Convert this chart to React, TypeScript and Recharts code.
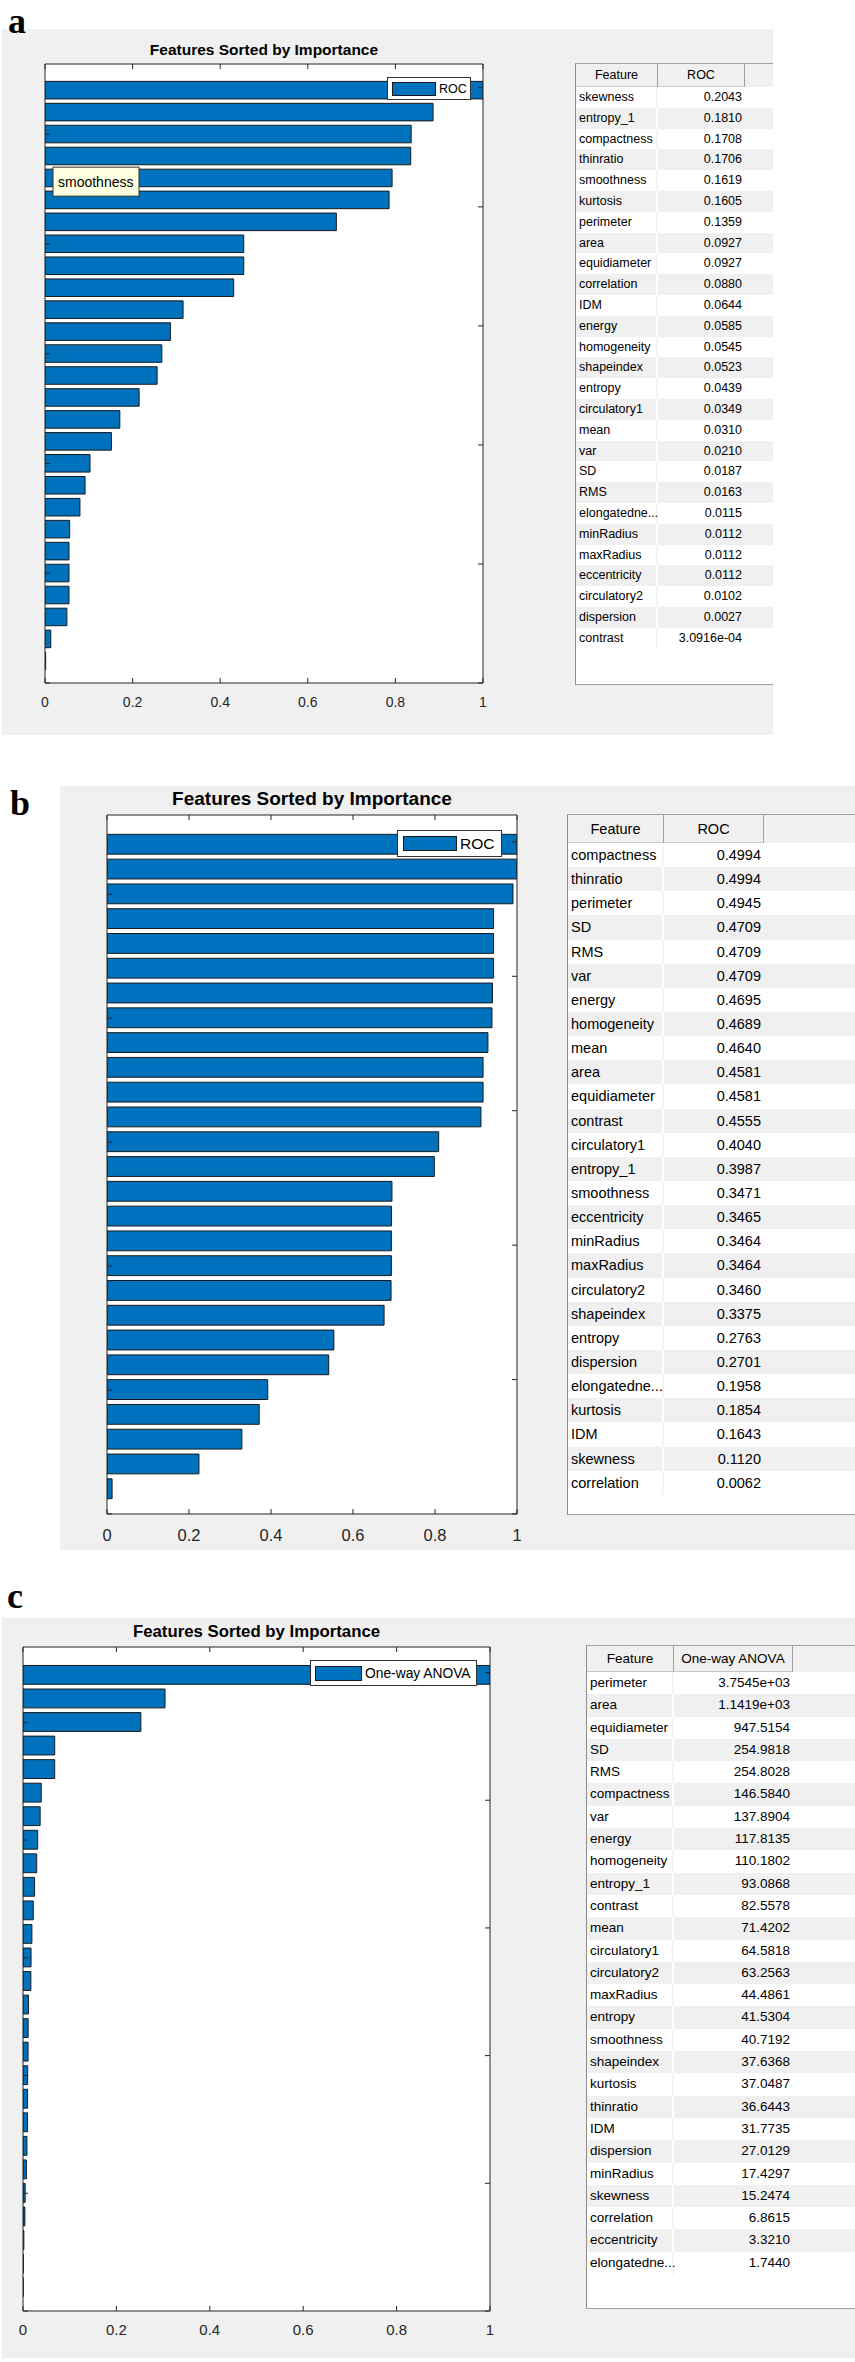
import { BarChart, Bar, XAxis, YAxis, CartesianGrid, Legend, ReferenceDot } from 'recharts'

// panel a: ROC ranking
const featuresA = [
  'skewness', 'entropy_1', 'compactness', 'thinratio', 'smoothness', 'kurtosis', 'perimeter',
  'area', 'equidiameter', 'correlation', 'IDM', 'energy', 'homogeneity', 'shapeindex', 'entropy',
  'circulatory1', 'mean', 'var', 'SD', 'RMS', 'elongatedness', 'minRadius', 'maxRadius',
  'eccentricity', 'circulatory2', 'dispersion', 'contrast',
]
const rocA = [
  '0.2043', '0.1810', '0.1708', '0.1706', '0.1619', '0.1605', '0.1359', '0.0927', '0.0927',
  '0.0880', '0.0644', '0.0585', '0.0545', '0.0523', '0.0439', '0.0349', '0.0310', '0.0210',
  '0.0187', '0.0163', '0.0115', '0.0112', '0.0112', '0.0112', '0.0102', '0.0027', '3.0916e-04',
]

// panel b: ROC ranking (second run)
const featuresB = [
  'compactness', 'thinratio', 'perimeter', 'SD', 'RMS', 'var', 'energy', 'homogeneity', 'mean',
  'area', 'equidiameter', 'contrast', 'circulatory1', 'entropy_1', 'smoothness', 'eccentricity',
  'minRadius', 'maxRadius', 'circulatory2', 'shapeindex', 'entropy', 'dispersion',
  'elongatedness', 'kurtosis', 'IDM', 'skewness', 'correlation',
]
const rocB = [
  '0.4994', '0.4994', '0.4945', '0.4709', '0.4709', '0.4709', '0.4695', '0.4689', '0.4640',
  '0.4581', '0.4581', '0.4555', '0.4040', '0.3987', '0.3471', '0.3465', '0.3464', '0.3464',
  '0.3460', '0.3375', '0.2763', '0.2701', '0.1958', '0.1854', '0.1643', '0.1120', '0.0062',
]

// panel c: one-way ANOVA ranking
const featuresC = [
  'perimeter', 'area', 'equidiameter', 'SD', 'RMS', 'compactness', 'var', 'energy',
  'homogeneity', 'entropy_1', 'contrast', 'mean', 'circulatory1', 'circulatory2', 'maxRadius',
  'entropy', 'smoothness', 'shapeindex', 'kurtosis', 'thinratio', 'IDM', 'dispersion',
  'minRadius', 'skewness', 'correlation', 'eccentricity', 'elongatedness',
]
const anovaC = [
  '3.7545e+03', '1.1419e+03', '947.5154', '254.9818', '254.8028', '146.5840', '137.8904',
  '117.8135', '110.1802', '93.0868', '82.5578', '71.4202', '64.5818', '63.2563', '44.4861',
  '41.5304', '40.7192', '37.6368', '37.0487', '36.6443', '31.7735', '27.0129', '17.4297',
  '15.2474', '6.8615', '3.3210', '1.7440',
]

const xTicks = [0, 0.2, 0.4, 0.6, 0.8, 1]
const yTicks = [0, 5, 10, 15, 20, 25]

const AX = '#262626'
const FONT = '"Liberation Sans", Arial, sans-serif'
const BAR_FILL = '#0072BD'
const BAR_EDGE = '#1a1a1a'
const FIG_BG = '#f0f0f0'
const Y_MAX = 28.2

const panelA = {
  label: 'a',
  labelPos: { left: 8, top: 3 },
  bg: { left: 2, top: 29, right: 773, bottom: 735 },
  plot: { left: 45, right: 483, top: 64, bottom: 683 },
  titleY: 50,
  titleFs: 15.5,
  tickFs: 14,
  tickDy: 24,
  legend: { left: 387, top: 77, width: 84, height: 23, swW: 44, swH: 14, pad: 4, fs: 12.5 },
  table: { left: 575, top: 63, right: 773, bottom: 685, headH: 23, rowH: 20.8, w1: 82, w2: 87, fs: 12.5 },
}

const panelB = {
  label: 'b',
  labelPos: { left: 10, top: 785 },
  bg: { left: 60, top: 786, right: 855, bottom: 1550 },
  plot: { left: 107, right: 517, top: 815, bottom: 1514 },
  titleY: 798,
  titleFs: 19,
  tickFs: 16.5,
  tickDy: 27,
  legend: { left: 397, top: 830, width: 105, height: 27, swW: 54, swH: 15, pad: 5, fs: 15.5 },
  table: { left: 567, top: 814, right: 855, bottom: 1515, headH: 28, rowH: 24.15, w1: 96, w2: 100, fs: 14.5 },
}

const panelC = {
  label: 'c',
  labelPos: { left: 7, top: 1578 },
  bg: { left: 2, top: 1618, right: 855, bottom: 2358 },
  plot: { left: 23, right: 490, top: 1647, bottom: 2311 },
  titleY: 1632,
  titleFs: 16.8,
  tickFs: 15,
  tickDy: 24,
  legend: { left: 310, top: 1660, width: 167, height: 26, swW: 47, swH: 15, pad: 4, fs: 13.8 },
  table: { left: 586, top: 1645, right: 855, bottom: 2309, headH: 26, rowH: 22.3, w1: 87, w2: 119, fs: 13.5 },
}

function shortName(s: string) {
  return s.length > 12 ? s.slice(0, 11) + '...' : s
}

function ImportanceChart({ cfg, features, scores, seriesName, tip }: any) {
  const values = scores.map(Number)
  const best = Math.max(...values)
  const n = features.length
  const data = features.map((name: string, i: number) => ({ name, pos: n - i, score: values[i] / best }))
  const { plot, legend: lg } = cfg
  const padT = 12
  const padR = 20
  const padB = 40
  const plotH = plot.bottom - plot.top
  const unit = plotH / Y_MAX
  const chartTop = plot.top - padT
  const tipRow = tip ? data.find((d: any) => d.name === tip) : null

  // every axis takes 1px of room, so the margins give way by 1px
  return (
    <div style={{ position: 'absolute', left: 0, top: chartTop }}>
      <BarChart
        layout="vertical"
        width={plot.right + padR}
        height={plotH + padT + padB}
        data={data}
        margin={{ top: padT - 1, right: padR - 1, bottom: padB - 1, left: plot.left - 1 }}
      >
        <CartesianGrid fill="#fff" horizontal={false} vertical={false} />
        <XAxis
          type="number"
          domain={[0, 1]}
          ticks={xTicks}
          interval={0}
          allowDataOverflow
          height={1}
          tickSize={0}
          tickMargin={0}
          axisLine={{ stroke: AX }}
          tickLine={false}
          tick={(t: any) => (
            <g>
              <line x1={t.x} y1={t.y} x2={t.x} y2={t.y - 5} stroke={AX} />
              <text
                x={t.x}
                y={t.y + cfg.tickDy}
                textAnchor="middle"
                fontSize={cfg.tickFs}
                fontFamily={FONT}
                fill={AX}
              >
                {String(t.payload.value)}
              </text>
            </g>
          )}
        />
        <XAxis
          xAxisId="top"
          orientation="top"
          type="number"
          domain={[0, 1]}
          ticks={xTicks}
          interval={0}
          allowDataOverflow
          height={1}
          tickSize={0}
          tickMargin={0}
          axisLine={{ stroke: AX }}
          tickLine={false}
          tick={(t: any) => <line x1={t.x} y1={t.y} x2={t.x} y2={t.y + 5} stroke={AX} />}
        />
        <YAxis
          type="number"
          dataKey="pos"
          domain={[0, Y_MAX]}
          ticks={yTicks}
          reversed
          interval={0}
          allowDataOverflow
          width={1}
          tickSize={0}
          tickMargin={0}
          axisLine={{ stroke: AX }}
          tickLine={false}
          tick={(t: any) => <line x1={t.x} y1={t.y} x2={t.x + 5} y2={t.y} stroke={AX} />}
        />
        <YAxis
          yAxisId="right"
          orientation="right"
          type="number"
          domain={[0, Y_MAX]}
          ticks={yTicks}
          reversed
          interval={0}
          allowDataOverflow
          width={1}
          tickSize={0}
          tickMargin={0}
          axisLine={{ stroke: AX }}
          tickLine={false}
          tick={(t: any) => <line x1={t.x} y1={t.y} x2={t.x - 5} y2={t.y} stroke={AX} />}
        />
        <Bar
          dataKey="score"
          name={seriesName}
          fill={BAR_FILL}
          stroke={BAR_EDGE}
          strokeWidth={1}
          barSize={unit * 0.8}
          isAnimationActive={false}
        />
        {tipRow ? (
          <ReferenceDot
            x={0}
            y={tipRow.pos}
            r={0}
            ifOverflow="visible"
            shape={(s: any) => (
              <g>
                <rect x={s.cx + 8} y={s.cy - 11} width={86} height={29} fill="#ffffe1" stroke="#333" />
                <text x={s.cx + 13} y={s.cy + 8.5} fontFamily={FONT} fontSize={14} fill="#000">
                  {tipRow.name}
                </text>
              </g>
            )}
          />
        ) : null}
        <Legend
          layout="horizontal"
          verticalAlign="middle"
          align="center"
          wrapperStyle={{ left: lg.left, top: lg.top - chartTop, width: lg.width, height: lg.height }}
          content={(props: any) => (
            <div
              style={{
                boxSizing: 'border-box',
                width: lg.width,
                height: lg.height,
                border: '1px solid #333',
                background: '#fff',
                display: 'flex',
                alignItems: 'center',
                paddingLeft: lg.pad,
                fontFamily: FONT,
                fontSize: lg.fs,
                color: '#000',
                whiteSpace: 'nowrap',
              }}
            >
              <div
                style={{
                  boxSizing: 'border-box',
                  width: lg.swW,
                  height: lg.swH,
                  background: BAR_FILL,
                  border: `1px solid ${BAR_EDGE}`,
                  marginRight: 3,
                }}
              />
              <span>{props.payload?.[0]?.value ?? seriesName}</span>
            </div>
          )}
        />
      </BarChart>
    </div>
  )
}

function FeatureTable({ t, features, values, header }: any) {
  return (
    <div
      style={{
        position: 'absolute',
        left: t.left,
        top: t.top,
        width: t.right - t.left,
        height: t.bottom - t.top,
        boxSizing: 'border-box',
        background: '#fff',
        borderLeft: '1px solid #8c8c8c',
        borderTop: '1px solid #a0a0a0',
        borderBottom: '1px solid #a0a0a0',
        overflow: 'hidden',
        fontFamily: FONT,
        fontSize: t.fs,
        color: '#000',
      }}
    >
      <div style={{ display: 'flex', height: t.headH, background: '#f0f0f0' }}>
        <div
          style={{
            boxSizing: 'border-box',
            width: t.w1,
            borderRight: '1px solid #a0a0a0',
            borderBottom: '1px solid #c8c8c8',
            textAlign: 'center',
            lineHeight: `${t.headH}px`,
          }}
        >
          Feature
        </div>
        <div
          style={{
            boxSizing: 'border-box',
            width: t.w2,
            borderRight: '1px solid #a0a0a0',
            borderBottom: '1px solid #c8c8c8',
            textAlign: 'center',
            lineHeight: `${t.headH}px`,
            whiteSpace: 'nowrap',
          }}
        >
          {header}
        </div>
      </div>
      {features.map((name: string, i: number) => {
        const shade = i % 2 === 1
        return (
          <div key={name} style={{ display: 'flex', height: t.rowH, background: shade ? '#f0f0f0' : '#fff' }}>
            <div
              style={{
                boxSizing: 'border-box',
                width: t.w1,
                paddingLeft: 3,
                borderRight: `2px solid ${shade ? '#fff' : '#f4f4f4'}`,
                lineHeight: `${t.rowH}px`,
                whiteSpace: 'nowrap',
              }}
            >
              {shortName(name)}
            </div>
            <div
              style={{
                boxSizing: 'border-box',
                width: t.w2,
                paddingRight: 3,
                textAlign: 'right',
                lineHeight: `${t.rowH}px`,
                whiteSpace: 'nowrap',
              }}
            >
              {values[i]}
            </div>
          </div>
        )
      })}
    </div>
  )
}

function Panel({ cfg, features, values, seriesName, tip }: any) {
  const { bg, plot } = cfg
  return (
    <>
      <div
        style={{
          position: 'absolute',
          left: bg.left,
          top: bg.top,
          width: bg.right - bg.left,
          height: bg.bottom - bg.top,
          background: FIG_BG,
        }}
      />
      <div
        style={{
          position: 'absolute',
          left: cfg.labelPos.left,
          top: cfg.labelPos.top,
          fontFamily: '"Liberation Serif", "Times New Roman", serif',
          fontWeight: 'bold',
          fontSize: 36,
          lineHeight: '36px',
          color: '#000',
        }}
      >
        {cfg.label}
      </div>
      <div
        style={{
          position: 'absolute',
          left: plot.left,
          width: plot.right - plot.left,
          top: cfg.titleY - cfg.titleFs / 2,
          textAlign: 'center',
          fontFamily: FONT,
          fontWeight: 'bold',
          fontSize: cfg.titleFs,
          lineHeight: `${cfg.titleFs}px`,
          whiteSpace: 'nowrap',
          color: '#000',
        }}
      >
        Features Sorted by Importance
      </div>
      <ImportanceChart cfg={cfg} features={features} scores={values} seriesName={seriesName} tip={tip} />
      <FeatureTable t={cfg.table} features={features} values={values} header={seriesName} />
    </>
  )
}

export default function App() {
  return (
    <div
      style={{
        position: 'absolute',
        left: 0,
        top: 0,
        width: 855,
        height: 2362,
        background: '#fff',
        overflow: 'hidden',
      }}
    >
      <Panel cfg={panelA} features={featuresA} values={rocA} seriesName="ROC" tip="smoothness" />
      <Panel cfg={panelB} features={featuresB} values={rocB} seriesName="ROC" />
      <Panel cfg={panelC} features={featuresC} values={anovaC} seriesName="One-way ANOVA" />
    </div>
  )
}
